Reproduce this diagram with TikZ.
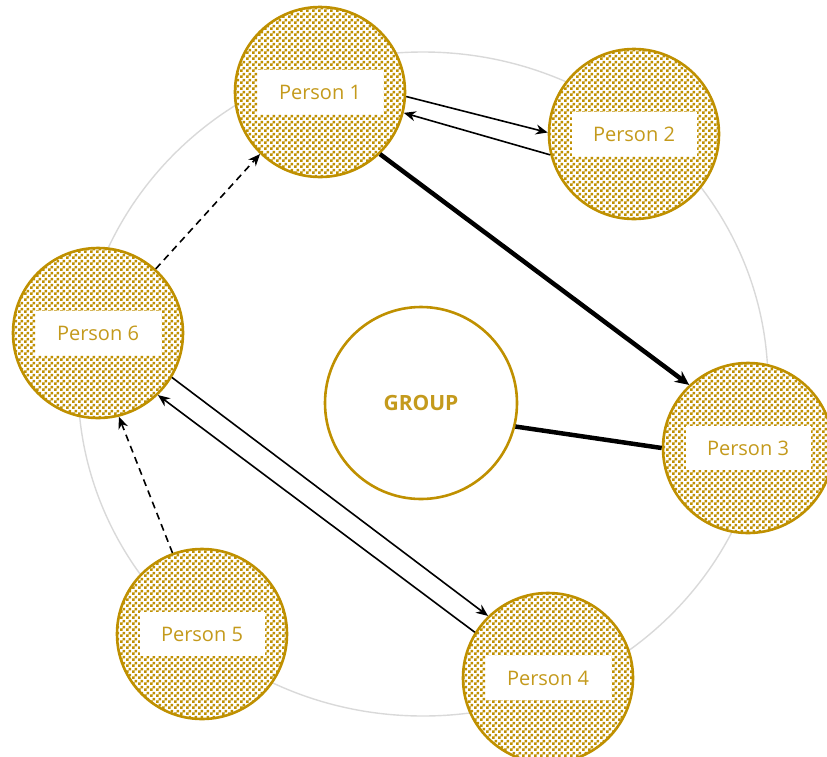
\documentclass[tikz,border=0pt]{standalone}
\usepackage{fontspec}
\setmainfont{Open Sans}
\usetikzlibrary{arrows.meta,patterns}

\definecolor{gold}{HTML}{BF9000}
\definecolor{goldtext}{HTML}{C49A1C}
\definecolor{ringgray}{HTML}{D9D9D9}

% checkerboard used to fill the member circles
\pgfdeclarepatternformonly{checker}{\pgfpointorigin}{\pgfpoint{6pt}{6pt}}{\pgfpoint{6pt}{6pt}}{%
  \pgfpathrectangle{\pgfpointorigin}{\pgfpoint{3pt}{3pt}}%
  \pgfpathrectangle{\pgfpoint{3pt}{3pt}}{\pgfpoint{3pt}{3pt}}%
  \pgfusepath{fill}}

\begin{document}
\begin{tikzpicture}[x=1pt,y=-1pt,
  member/.style={circle, minimum size=170pt, inner sep=0pt, draw=gold, line width=2.6pt,
    preaction={fill=white}, pattern=checker, pattern color=gold},
  tag/.style={fill=white, minimum width=125pt, minimum height=44pt, inner sep=0pt,
    text=goldtext, font=\fontsize{20}{22}\selectfont},
  hub/.style={circle, minimum size=192pt, inner sep=0pt, draw=gold, line width=2.6pt, fill=white,
    text=goldtext, font=\fontsize{21}{23}\selectfont\bfseries},
  thin/.style={line width=1.6pt, -{Stealth[length=12pt,width=10pt]}},
  bold/.style={line width=4.5pt, -{Stealth[length=14pt,width=13pt]}},
  dashlink/.style={line width=1.6pt, dash pattern=on 7pt off 5pt, -{Stealth[length=12pt,width=10pt]}}
]
\useasboundingbox (0,0) rectangle (827,756);

% grey ring behind the group
\draw[ringgray, line width=1.4pt] (423,384) ellipse [x radius=345, y radius=332];

% group hub
\node[hub] (grp) at (421,403) {GROUP};

% members
\node[member] (p1) at (320,92) {};
\node[member] (p2) at (634,134) {};
\node[member] (p3) at (748,448) {};
\node[member] (p4) at (548,678) {};
\node[member] (p5) at (202,634) {};
\node[member] (p6) at (98,333) {};

\node[tag] (t1) at (p1) {Person 1};
\node[tag] (t2) at (p2) {Person 2};
\node[tag] (t3) at (p3) {Person 3};
\node[tag] (t4) at (p4) {Person 4};
\node[tag] (t5) at (p5) {Person 5};
\node[tag] (t6) at (p6) {Person 6};

% connections
\draw[thin] (p1.-3) -- (p2.179);
\draw[thin] (p2.194) -- (p1.-14);
\draw[bold] (p1.-46) -- (p3.133);
\draw[line width=4.5pt] (grp.-14) -- (p3.180);
\draw[dashlink] (p6.48) -- (p1.226);
\draw[dashlink] (p5.110) -- (p6.284);
\draw[thin] (p6.-31) -- (p4.134);
\draw[thin] (p4.148) -- (p6.314);
\end{tikzpicture}
\end{document}
